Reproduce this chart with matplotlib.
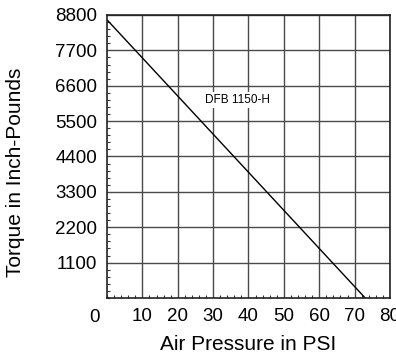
import matplotlib.pyplot as plt
from matplotlib.ticker import MultipleLocator

# Daten aus dem Diagramm
pressure_psi = [0, 73]
torque_inlb = [8650, 0]
x_ticks = [10, 20, 30, 40, 50, 60, 70, 80]
y_ticks = [1100, 2200, 3300, 4400, 5500, 6600, 7700, 8800]
series_label = "DFB 1150-H"

plt.rcParams['font.family'] = ['Liberation Sans', 'DejaVu Sans']

fig = plt.figure(figsize=(3.96, 3.62), dpi=100)
ax = fig.add_axes([0.2702, 0.1768, 0.7146, 0.7818])

ax.plot(pressure_psi, torque_inlb, color='black', lw=1.0)

ax.set_xlim(0, 80)
ax.set_ylim(0, 8800)
ax.set_xticks(x_ticks)
ax.set_yticks(y_ticks)
ax.xaxis.set_minor_locator(MultipleLocator(2))
ax.yaxis.set_minor_locator(MultipleLocator(220))
ax.grid(True, which='major', color='#4a4a4a', lw=1.0)
ax.set_axisbelow(True)

ax.tick_params(which='major', length=0, labelsize=13.5, pad=7)
ax.tick_params(which='minor', direction='in', length=2, width=0.8, color='#333333')
for sp in ax.spines.values():
    sp.set_color('#222222')
    sp.set_linewidth(1.2)

# "0" sitzt links neben der Achse, auf Hoehe der x-Beschriftungen
ax.text(-3.4, -620, "0", ha='center', va='center', fontsize=13.5)

# Achsentitel frei positioniert wie im Original
fig.text(248 / 396, 1 - 345 / 362, "Air Pressure in PSI", fontsize=15,
         ha='center', va='center')
fig.text(16 / 396, 1 - 172 / 362, "Torque in Inch-Pounds", fontsize=15,
         ha='center', va='center', rotation=90)

ax.text(37, 6160, series_label, ha='center', va='center', fontsize=8.5,
        bbox=dict(facecolor='white', edgecolor='none', pad=1.5))

fig.savefig("out.png", dpi=100)
